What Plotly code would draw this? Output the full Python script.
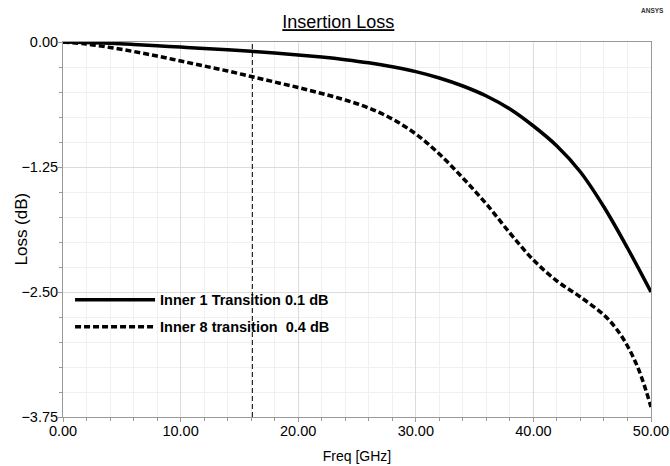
import plotly.graph_objects as go

# Data (frequency in GHz, loss in dB)
freq_inner1 = [0, 2, 4, 6, 8, 10, 12, 14, 16, 18, 20, 22, 24, 26, 28, 30, 32, 34, 36, 38, 40, 42, 44, 46, 48, 50]
loss_inner1 = [0, -0.004, -0.013, -0.025, -0.038, -0.051, -0.064, -0.078, -0.093, -0.110, -0.129, -0.151, -0.177,
               -0.208, -0.247, -0.296, -0.36, -0.44, -0.54, -0.67, -0.84, -1.04, -1.30, -1.65, -2.06, -2.50]

freq_inner8 = [0, 2, 4, 6, 8, 10, 12, 14, 16, 18, 20, 22, 24, 26, 28, 30, 32, 34, 36, 38, 40, 42, 44, 46, 47, 48, 49, 50]
loss_inner8 = [0, -0.02, -0.055, -0.095, -0.14, -0.19, -0.24, -0.29, -0.345, -0.40, -0.455, -0.515, -0.58,
               -0.66, -0.77, -0.92, -1.12, -1.36, -1.62, -1.91, -2.18, -2.39, -2.55, -2.73, -2.86, -3.04, -3.29, -3.65]

marker_freq = 16.1
y_range = [-3.75, 0.0]
x_range = [0, 50]

name_inner1 = "Inner 1 Transition 0.1 dB"
name_inner8 = "Inner 8 transition  0.4 dB"
y_title = "Loss (dB)"

FONT = "Liberation Sans, Arial, sans-serif"

fig = go.Figure()
fig.add_trace(go.Scatter(x=freq_inner1, y=loss_inner1, mode="lines", name=name_inner1, legendgroup="a",
                         line=dict(color="black", width=3.5, shape="spline", smoothing=1.0)))
fig.add_trace(go.Scatter(x=freq_inner8, y=loss_inner8, mode="lines", name=name_inner8, legendgroup="b",
                         line=dict(color="black", width=3.5, dash="6px,3px", shape="spline", smoothing=1.0)))
fig.add_trace(go.Scatter(x=[marker_freq, marker_freq], y=y_range, mode="lines", showlegend=False,
                         line=dict(color="black", width=1, dash="5px,3px"), hoverinfo="skip"))

fig.update_layout(
    width=670, height=466,
    margin=dict(l=63, r=19, t=42, b=49),
    paper_bgcolor="white", plot_bgcolor="white",
    font=dict(family=FONT, color="black"),
    title=dict(text="<u>Insertion Loss</u>", x=0.505, xanchor="center", y=0.953, yanchor="middle",
               font=dict(family=FONT, size=18, color="black")),
    showlegend=True,
    legend=dict(x=0.012, y=0.355, xanchor="left", yanchor="top", bgcolor="rgba(0,0,0,0)",
                font=dict(family=FONT, size=14.5, color="black", weight="bold"),
                itemwidth=80, traceorder="grouped", tracegroupgap=5),
    annotations=[
        dict(text="<b>ANSYS</b>", xref="paper", yref="paper", x=1.025, y=1.083,
             xanchor="right", yanchor="middle", showarrow=False,
             font=dict(family=FONT, size=6.5, color="#333")),
        dict(text=y_title, xref="paper", yref="paper", x=-0.0714, y=0.5, textangle=-90,
             xanchor="center", yanchor="middle", showarrow=False,
             font=dict(family=FONT, size=17, color="black")),
    ],
)

fig.update_xaxes(range=x_range, dtick=10, tick0=0, tickformat=".2f",
                 showgrid=True, gridcolor="#dcdcdc", gridwidth=1,
                 showline=True, mirror=True, linecolor="#999999", linewidth=1,
                 ticks="outside", ticklen=4, tickcolor="#999999", ticklabelstandoff=-3,
                 tickfont=dict(family=FONT, size=14.5, color="black"),
                 minor=dict(dtick=2, showgrid=True, gridcolor="#f0f0f0", ticks="outside",
                            ticklen=3, tickcolor="#999999"),
                 title=dict(text="Freq [GHz]", font=dict(family=FONT, size=14, color="black"), standoff=12),
                 zeroline=False, automargin=False)
fig.update_yaxes(range=y_range, dtick=1.25, tick0=0, tickformat=".2f",
                 showgrid=True, gridcolor="#dcdcdc", gridwidth=1,
                 showline=True, mirror=True, linecolor="#999999", linewidth=1,
                 ticks="outside", ticklen=4, tickcolor="#999999", ticklabelstandoff=-3,
                 tickfont=dict(family=FONT, size=14.5, color="black"),
                 minor=dict(dtick=0.25, showgrid=True, gridcolor="#f0f0f0", ticks="outside",
                            ticklen=3, tickcolor="#999999"),
                 zeroline=False, automargin=False)

fig.write_html("out.html")
